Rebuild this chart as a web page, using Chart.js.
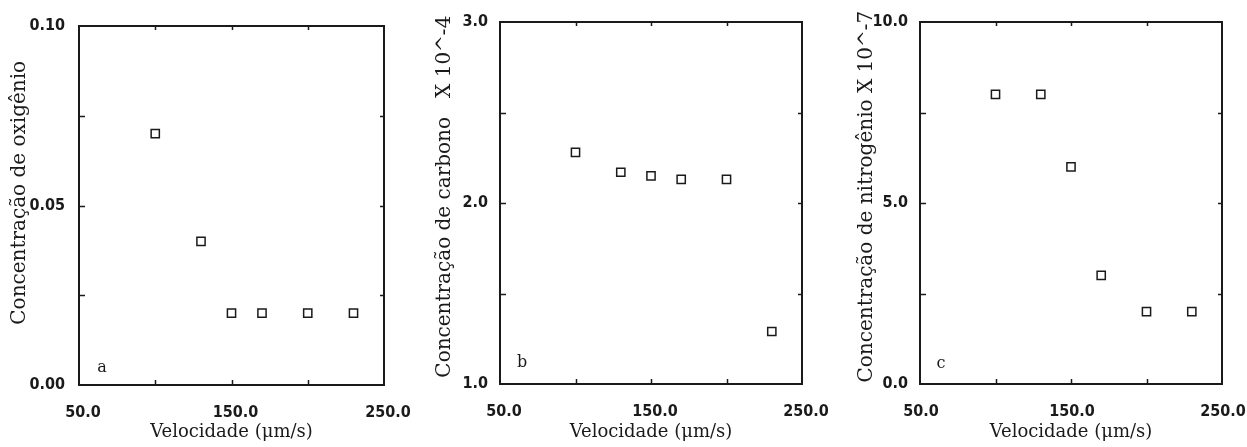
<!DOCTYPE html>
<html>
<head>
<meta charset="utf-8">
<script src="https://cdn.jsdelivr.net/npm/chart.js@4.4.1/dist/chart.umd.min.js"></script>
<style>
  body { margin: 0; background: #fff; width: 1247px; height: 447px; overflow: hidden; }
  .panel { position: absolute; top: 0; height: 447px; }
</style>
</head>
<body>
<div class="panel" style="left:0"><canvas id="chartA" width="420" height="447"></canvas></div>
<div class="panel" style="left:420px"><canvas id="chartB" width="420" height="447"></canvas></div>
<div class="panel" style="left:840px"><canvas id="chartC" width="407" height="447"></canvas></div>
<script>
// velocity (um/s) of each sample, shared by the three panels
const velocidade = [100, 130, 150, 170, 200, 230];
const oxigenio = [0.07, 0.04, 0.02, 0.02, 0.02, 0.02];
const carbono = [2.28, 2.17, 2.15, 2.13, 2.13, 1.29];     // x 10^-4
const nitrogenio = [8.0, 8.0, 6.0, 3.0, 2.0, 2.0];      // x 10^-7

const xLabels = [50, 150, 250];
const yLabelsA = [0, 0.05, 0.10];
const yLabelsB = [1, 2, 3];
const yLabelsC = [0, 5, 10];

const INK = "#1a1a1a";
const tickFont = { family: "'Liberation Sans Narrow', 'DejaVu Sans Condensed', sans-serif", size: 16, weight: "bold" };
const serif = "'DejaVu Serif', 'Liberation Serif', serif";

function hasLabel(list, v) {
  return list.some(l => Math.abs(l - v) < 1e-9);
}

// box around the plot, inward tick marks and the panel letter
const framePlugin = {
  id: "frame",
  afterDraw(chart, args, opts) {
    const { ctx, chartArea: a, scales: { x, y } } = chart;
    ctx.save();
    ctx.strokeStyle = INK;
    ctx.lineWidth = 1.5;
    ctx.beginPath();
    x.ticks.forEach(t => {
      if (t.value <= x.min || t.value >= x.max) return;
      const px = Math.round(x.getPixelForValue(t.value)) + 0.5;
      ctx.moveTo(px, a.bottom); ctx.lineTo(px, a.bottom - 5);
      ctx.moveTo(px, a.top); ctx.lineTo(px, a.top + 4);
    });
    y.ticks.forEach(t => {
      if (t.value <= y.min || t.value >= y.max) return;
      const py = Math.round(y.getPixelForValue(t.value)) + 0.5;
      ctx.moveTo(a.left, py); ctx.lineTo(a.left + 6, py);
      ctx.moveTo(a.right, py); ctx.lineTo(a.right - 4, py);
    });
    ctx.stroke();
    ctx.lineWidth = 2;
    ctx.strokeRect(a.left, a.top, a.right - a.left, a.bottom - a.top);

    ctx.fillStyle = INK;
    ctx.font = "16px " + serif;
    ctx.textAlign = "center";
    ctx.textBaseline = "middle";
    ctx.fillText(opts.letter, a.left + opts.dx, a.bottom - opts.dy);
    ctx.restore();
  }
};

function makePanel(id, p) {
  new Chart(document.getElementById(id), {
    type: "scatter",
    data: {
      datasets: [{
        data: velocidade.map((v, i) => ({ x: v, y: p.values[i] })),
        pointStyle: "rect",
        pointRadius: 5.8,
        pointBorderWidth: 1.5,
        pointBackgroundColor: "rgba(255,255,255,0)",
        pointBorderColor: INK,
        showLine: false,
        clip: false
      }]
    },
    options: {
      responsive: false,
      animation: false,
      events: [],
      layout: { padding: { top: p.top, right: p.right, left: 0, bottom: 0 } },
      plugins: {
        legend: { display: false },
        tooltip: { enabled: false },
        frame: { letter: p.letter, dx: p.dx, dy: p.dy }
      },
      scales: {
        x: {
          type: "linear",
          min: 50, max: 250,
          grid: { display: false, drawTicks: false },
          border: { display: false },
          afterFit: s => { s.height = p.xHeight; s.paddingLeft = 0; s.paddingRight = 0; },
          ticks: {
            stepSize: 50,
            autoSkip: false,
            maxRotation: 0,
            padding: 18,
            labelOffset: p.xShift,
            color: INK,
            font: tickFont,
            callback: v => hasLabel(xLabels, v) ? v.toFixed(1) : ""
          },
          title: {
            display: true,
            text: "Velocidade (\u03bcm/s)",
            color: INK,
            font: { family: serif, size: 18 },
            padding: { top: 0, bottom: 4 }
          }
        },
        y: {
          min: p.min, max: p.max,
          grid: { display: false, drawTicks: false },
          border: { display: false },
          afterFit: s => { s.width = p.yWidth; s.paddingTop = 0; s.paddingBottom = 0; },
          ticks: {
            stepSize: p.step,
            autoSkip: false,
            padding: p.yPad,
            color: INK,
            font: tickFont,
            callback: v => hasLabel(p.labels, v) ? v.toFixed(p.dec) : ""
          },
          title: {
            display: true,
            text: p.title,
            color: INK,
            font: { family: serif, size: 20 },
            padding: { top: p.titlePad, bottom: 0 }
          }
        }
      }
    },
    plugins: [framePlugin]
  });
}

makePanel("chartA", {
  values: oxigenio, labels: yLabelsA, min: 0, max: 0.1, step: 0.025, dec: 2,
  title: "    Concentração de oxigênio",
  top: 26, right: 36, yWidth: 79, xHeight: 62, yPad: 14, titlePad: 8, xShift: 4,
  letter: "a", dx: 23, dy: 17
});
makePanel("chartB", {
  values: carbono, labels: yLabelsB, min: 1, max: 3, step: 0.5, dec: 1,
  title: "  Concentração de carbono   X 10^-4",
  top: 22, right: 38, yWidth: 80, xHeight: 63, yPad: 12, titlePad: 13, xShift: 4,
  letter: "b", dx: 22, dy: 21
});
makePanel("chartC", {
  values: nitrogenio, labels: yLabelsC, min: 0, max: 10, step: 2.5, dec: 1,
  title: "  Concentração de nitrogênio X 10^-7",
  top: 22, right: 25, yWidth: 80, xHeight: 63, yPad: 12, titlePad: 15, xShift: 1,
  letter: "c", dx: 21, dy: 20
});
</script>
</body>
</html>
